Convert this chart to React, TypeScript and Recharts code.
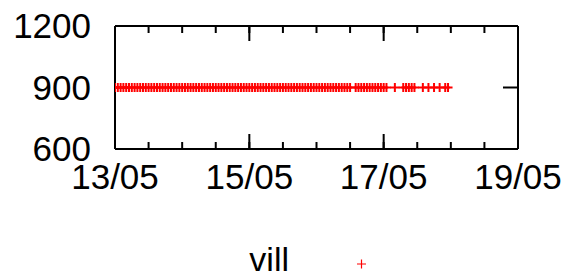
import { ScatterChart, Scatter, XAxis, YAxis, Legend } from 'recharts';

// hours after 13/05 00:00
const hours = [
  0, 1, 2, 3, 4, 5, 6, 7, 8, 9, 10, 11,
  12, 13, 14, 15, 16, 17, 18, 19, 20, 21, 22, 23,
  24, 25, 26, 27, 28, 29, 30, 31, 32, 33, 34, 35,
  36, 37, 38, 39, 40, 41, 42, 43, 44, 45, 46, 47,
  48, 49, 50, 51, 52, 53, 54, 55, 56, 57, 58, 59,
  60, 61, 62, 63, 64, 65, 66, 67, 68, 69, 70, 71,
  72, 73, 74, 75, 76, 77, 78, 79, 80, 81, 82, 83,
  84, 86, 87, 88, 89, 90, 91, 92, 93, 94, 95, 96,
  97, 100, 103, 104, 105, 106, 107, 110, 112, 114, 116, 118,
  119,
];

const vill = [
  900, 900, 900, 900, 900, 900, 900, 900, 900, 900, 900, 900,
  900, 900, 900, 900, 900, 900, 900, 900, 900, 900, 900, 900,
  900, 900, 900, 900, 900, 900, 900, 900, 900, 900, 900, 900,
  900, 900, 900, 900, 900, 900, 900, 900, 900, 900, 900, 900,
  900, 900, 900, 900, 900, 900, 900, 900, 900, 900, 900, 900,
  900, 900, 900, 900, 900, 900, 900, 900, 900, 900, 900, 900,
  900, 900, 900, 900, 900, 900, 900, 900, 900, 900, 900, 900,
  900, 900, 900, 900, 900, 900, 900, 900, 900, 900, 900, 900,
  900, 900, 900, 900, 900, 900, 900, 900, 900, 900, 900, 900,
  900,
];

const majorTicks = [0, 48, 96, 144];
const minorTicks = [0, 12, 24, 36, 48, 60, 72, 84, 96, 108, 120, 132, 144];
const yTicks = [600, 900, 1200];

const data = hours.map((h, i) => ({ h, v: vill[i] }));

const FONT = '"Liberation Sans", Arial, sans-serif';
const dayLabel = (h: number) => `${13 + h / 24}/05`;
const blank = () => '';
const tickStroke = { stroke: '#000', strokeWidth: 2 };
const THIN = 0.01; // tick-only axes take no room

const Plus = (p: any) => (
  <path
    d={`M${p.cx - 4.5},${p.cy}h9M${p.cx},${p.cy - 4.5}v9`}
    stroke="#ff0000"
    strokeWidth={2}
    fill="none"
  />
);

const Nothing = () => <g />;

const LegendBox = () => (
  <svg width={570} height={50} style={{ display: 'block', overflow: 'visible' }}>
    <text x={289} y={43} textAnchor="end" fontSize={34} fontFamily={FONT} fill="#000">
      vill
    </text>
    <path d="M357,36h9M361.5,31.5v9" stroke="#ff0000" strokeWidth={1.2} fill="none" />
  </svg>
);

export default function App() {
  return (
    <div style={{ position: 'absolute', top: 0, left: 0 }}>
      <ScatterChart width={570} height={278} margin={{ top: 26, right: 52, bottom: 0, left: 0 }}>
        <XAxis
          xAxisId="lab"
          type="number"
          dataKey="h"
          domain={[0, 144]}
          allowDataOverflow
          ticks={majorTicks}
          tickFormatter={dayLabel}
          tickSize={0}
          tickMargin={15}
          height={79}
          axisLine={tickStroke}
          tick={{ fill: '#000', fontSize: 35, fontFamily: FONT }}
        />
        <XAxis xAxisId="bMin" type="number" dataKey="h" domain={[0, 144]} allowDataOverflow ticks={minorTicks}
          tickFormatter={blank} tickSize={7} mirror height={THIN} axisLine={false} tickLine={tickStroke} />
        <XAxis xAxisId="bMaj" type="number" dataKey="h" domain={[0, 144]} allowDataOverflow ticks={majorTicks}
          tickFormatter={blank} tickSize={15} mirror height={THIN} axisLine={false} tickLine={tickStroke} />
        <XAxis xAxisId="tMin" orientation="top" type="number" dataKey="h" domain={[0, 144]} allowDataOverflow ticks={minorTicks}
          tickFormatter={blank} tickSize={7} mirror height={THIN} axisLine={tickStroke} tickLine={tickStroke} />
        <XAxis xAxisId="tMaj" orientation="top" type="number" dataKey="h" domain={[0, 144]} allowDataOverflow ticks={majorTicks}
          tickFormatter={blank} tickSize={15} mirror height={THIN} axisLine={false} tickLine={tickStroke} />
        <YAxis
          yAxisId="lab"
          type="number"
          dataKey="v"
          domain={[600, 1200]}
          allowDataOverflow
          ticks={yTicks}
          tickSize={0}
          tickMargin={24}
          width={115}
          axisLine={tickStroke}
          tick={{ fill: '#000', fontSize: 35, fontFamily: FONT }}
        />
        <YAxis yAxisId="lMaj" type="number" dataKey="v" domain={[600, 1200]} allowDataOverflow ticks={yTicks}
          tickFormatter={blank} tickSize={15} mirror width={THIN} axisLine={false} tickLine={tickStroke} />
        <YAxis yAxisId="rMaj" orientation="right" type="number" dataKey="v" domain={[600, 1200]} allowDataOverflow ticks={yTicks}
          tickFormatter={blank} tickSize={15} mirror width={THIN} axisLine={tickStroke} tickLine={tickStroke} />
        <Legend verticalAlign="bottom" content={LegendBox} wrapperStyle={{ left: 0, bottom: 0, width: 570, height: 50 }} />
        {/* invisible series so the tick-only axes get drawn */}
        <Scatter data={data} xAxisId="bMin" yAxisId="lMaj" shape={Nothing} legendType="none" isAnimationActive={false} />
        <Scatter data={data} xAxisId="bMaj" yAxisId="rMaj" shape={Nothing} legendType="none" isAnimationActive={false} />
        <Scatter data={data} xAxisId="tMin" yAxisId="lab" shape={Nothing} legendType="none" isAnimationActive={false} />
        <Scatter data={data} xAxisId="tMaj" yAxisId="lab" shape={Nothing} legendType="none" isAnimationActive={false} />
        <Scatter
          name="vill"
          data={data}
          xAxisId="lab"
          yAxisId="lab"
          shape={Plus}
          isAnimationActive={false}
        />
      </ScatterChart>
    </div>
  );
}
